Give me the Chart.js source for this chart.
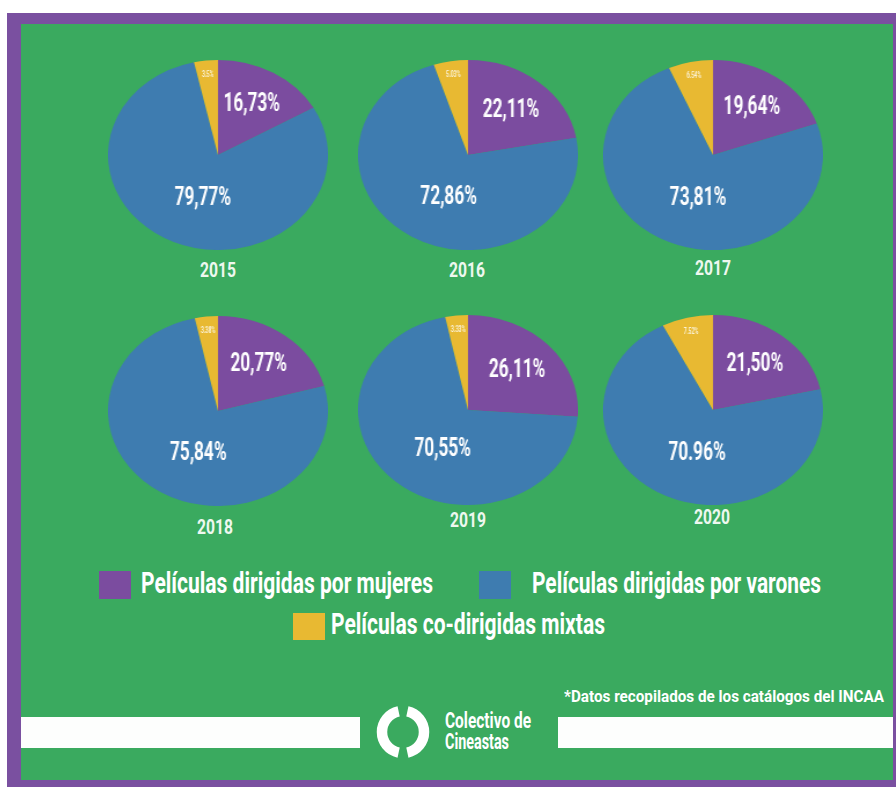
<!DOCTYPE html>
<html><head><meta charset="utf-8">
<script src="https://cdn.jsdelivr.net/npm/chart.js@4.4.0/dist/chart.umd.min.js"></script>
<style>
html,body{margin:0;padding:0;width:896px;height:787px;overflow:hidden;background:#fff;}
#frame{position:absolute;left:7px;top:13px;width:889px;height:774px;background:#7a50a0;}
#green{position:absolute;left:21px;top:24px;width:872px;height:756px;background:#3aaa5f;}
.t{position:absolute;white-space:nowrap;font-family:Roboto, sans-serif;font-weight:700;color:#fff;transform-origin:0 0;line-height:1;}
.bar{position:absolute;background:#fdfefd;}
.sq{position:absolute;}
.pie{position:absolute;transform-origin:50% 50%;}
</style></head>
<body>
<div id="frame"></div>
<div id="green"></div>
<div class="bar" style="left:21px;top:717px;width:339px;height:31px;"></div>
<div class="bar" style="left:558px;top:717px;width:335px;height:31px;"></div>
<svg style="position:absolute;left:373px;top:702px;" width="60" height="60" viewBox="0 0 60 60">
  <path id="arcR" fill="none" stroke="#fff" stroke-width="10.5"/>
  <path id="arcL" fill="none" stroke="#fff" stroke-width="10.5"/>
</svg>
<div id="root"></div>
<script>
// ---- data ----
const years = ['2015', '2016', '2017', '2018', '2019', '2020'];
const seriesNames = ['Películas dirigidas por mujeres', 'Películas dirigidas por varones', 'Películas co-dirigidas mixtas'];
const seriesColors = ['#7b4c9f', '#3e7cb0', '#e8b932'];
const mujeres = [16.73, 22.11, 19.64, 20.77, 26.11, 21.50];
const varones = [79.77, 72.86, 73.81, 75.84, 70.55, 70.96];
const mixtas  = [3.5, 5.03, 6.54, 3.38, 3.33, 7.52];
const mujeresText = ['16,73%', '22,11%', '19,64%', '20,77%', '26,11%', '21,50%'];
const varonesText = ['79,77%', '72,86%', '73,81%', '75,84%', '70,55%', '70.96%'];
const mixtasText  = ['3.5%', '5.03%', '6.54%', '3.38%', '3.33%', '7.52%'];
const footnote = '*Datos recopilados de los catálogos del INCAA';
const logoLines = ['Colectivo de', 'Cineastas'];

// ---- layout ----
const pieLayout = [
  {cx:218, cy:155, yearX:218, yearBase:278},
  {cx:468, cy:155, yearX:467, yearBase:278},
  {cx:713, cy:155, yearX:713, yearBase:276},
  {cx:218, cy:411, yearX:215, yearBase:535},
  {cx:468, cy:410, yearX:468, yearBase:528},
  {cx:713, cy:410, yearX:712, yearBase:525}
];
const RX = 110, RY = 95;
const STRETCH = RX / RY;

const root = document.getElementById('root');

function addText(txt, left, baseline, fs, width, center, color){
  const el = document.createElement('div');
  el.className = 't';
  el.textContent = txt;
  el.style.fontSize = fs + 'px';
  el.style.top = (baseline - 0.842 * fs) + 'px';
  if (color) el.style.color = color;
  root.appendChild(el);
  const w = el.getBoundingClientRect().width;
  const s = width / w;
  el.style.transform = 'scaleX(' + s + ')';
  el.style.left = (center ? left - width / 2 : left) + 'px';
  return el;
}

function addSquare(x, y, w, h, c){
  const d = document.createElement('div');
  d.className = 'sq';
  Object.assign(d.style, {left:x+'px', top:y+'px', width:w+'px', height:h+'px', background:c});
  root.appendChild(d);
}

// logo ring
(function(){
  const cx = 30, cy = 30, r = 21;
  function arc(a0, a1){
    const p = a => [cx + r*Math.cos(a*Math.PI/180), cy + r*Math.sin(a*Math.PI/180)];
    const [x0,y0] = p(a0), [x1,y1] = p(a1);
    return `M${x0} ${y0} A${r} ${r} 0 0 1 ${x1} ${y1}`;
  }
  document.getElementById('arcR').setAttribute('d', arc(-78, 78));
  document.getElementById('arcL').setAttribute('d', arc(102, 258));
})();

const sliceLabels = {
  id: 'sliceLabels',
  afterDatasetsDraw(chart, args, opts){
    const ctx = chart.ctx;
    const meta = chart.getDatasetMeta(0);
    const texts = opts.texts;
    meta.data.forEach((arc, i) => {
      const p = arc.getProps(['x','y','startAngle','endAngle','outerRadius'], true);
      let mid = (p.startAngle + p.endAngle) / 2;
      // pull angle toward straight down (PI/2) by given weight
      const w = opts.pull[i];
      mid = mid * (1 - w) + (Math.PI / 2) * w;
      const f = opts.radial[i];
      const px = p.x + Math.cos(mid) * p.outerRadius * f;
      const py = p.y + Math.sin(mid) * p.outerRadius * f;
      ctx.save();
      ctx.translate(px, py);
      ctx.scale(opts.squeeze[i] / STRETCH, 1);
      ctx.font = '700 ' + opts.size[i] + 'px Roboto';
      ctx.fillStyle = opts.color[i];
      ctx.textAlign = 'center';
      ctx.textBaseline = 'middle';
      ctx.fillText(texts[i], 0, 0);
      ctx.restore();
    });
  }
};

function build(){
  years.forEach((yr, k) => {
    const L = pieLayout[k];
    const wrap = document.createElement('div');
    wrap.className = 'pie';
    Object.assign(wrap.style, {left:(L.cx - RY)+'px', top:(L.cy - RY)+'px', width:(2*RY)+'px', height:(2*RY)+'px', transform:'scaleX(' + STRETCH + ')'});
    const cv = document.createElement('canvas');
    cv.width = 2*RY; cv.height = 2*RY;
    wrap.appendChild(cv);
    root.appendChild(wrap);
    new Chart(cv, {
      type: 'pie',
      data: {
        labels: seriesNames,
        datasets: [{
          data: [mujeres[k], varones[k], mixtas[k]],
          backgroundColor: seriesColors,
          borderWidth: 0
        }]
      },
      options: {
        responsive: false,
        animation: false,
        layout: {padding: 0},
        events: [],
        plugins: {
          legend: {display: false},
          tooltip: {enabled: false},
          sliceLabels: {
            texts: [mujeresText[k], varonesText[k], mixtasText[k]],
            radial: [0.61, 0.48, 0.85],
            pull: [0, 0.3, 0],
            size: [25, 25, 8.5],
            squeeze: [0.69, 0.69, 0.62],
            color: ['#ffffff', '#ffffff', '#fbf3d8']
          }
        }
      },
      plugins: [sliceLabels]
    });
    addText(yr, L.yearX, L.yearBase, 21, 36, true, '#eef8ef');
  });

  // legend
  addSquare(99, 571, 32, 28, seriesColors[0]);
  addText(seriesNames[0], 141, 593, 29, 292, false);
  addSquare(479, 571, 32, 28, seriesColors[1]);
  addText(seriesNames[1], 532, 593, 29, 289, false);
  addSquare(293, 613, 32, 27, seriesColors[2]);
  addText(seriesNames[2], 331, 634, 29, 274, false);

  // footnote and logo text
  addText(footnote, 564, 702, 17, 320, false);
  addText(logoLines[0], 445, 729, 22, 86, false);
  addText(logoLines[1], 445, 750, 22, 64, false);
}

if (document.fonts && document.fonts.load) {
  Promise.all([document.fonts.load('700 20px Roboto')]).then(build, build);
} else build();
</script>
</body></html>
